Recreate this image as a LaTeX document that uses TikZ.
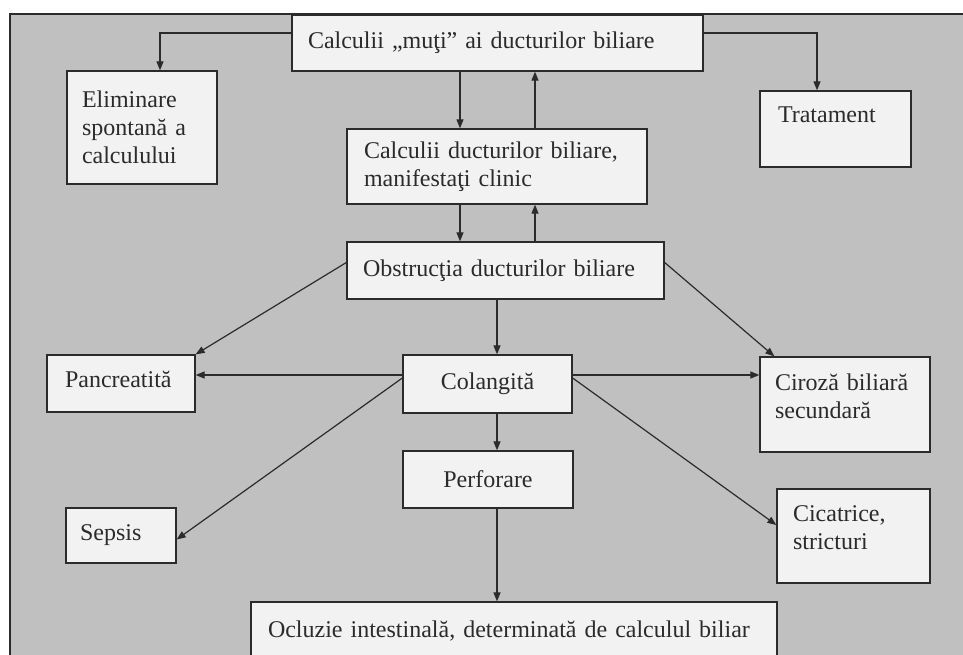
\documentclass[tikz,border=0pt]{standalone}
\usepackage{fontspec}
\setmainfont{Liberation Serif}
\usetikzlibrary{arrows.meta}
\definecolor{bg}{HTML}{C0C0C0}
\definecolor{boxfill}{HTML}{F2F2F2}
\definecolor{ink}{HTML}{2B2B2B}
\begin{document}
\begin{tikzpicture}[x=1pt,y=-1pt,
  box/.style={draw=ink, line width=1.3pt, fill=boxfill, text=ink, align=left, inner ysep=0pt, font=\fontsize{24}{28}\selectfont},
  arr/.style={draw=ink, line width=1.2pt, -{Triangle[length=9pt,width=7pt]}}]
\useasboundingbox (0,0) rectangle (963,655);
\clip (0,0) rectangle (963,655);
\fill[white] (0,0) rectangle (963,655);
\fill[bg] (10,14) rectangle (963,655);
\draw[ink, line width=1.3pt] (10,655) -- (10,14) -- (963,14);

\node[box, text width=379pt, inner xsep=16pt, minimum height=56pt] (top) at (497.5,43) {Calculii „muţi” ai ducturilor biliare};
\node[box, text width=120pt, inner xsep=15pt, minimum height=113pt] (elim) at (142,127.5) {Eliminare\\spontană a\\calculului};
\node[box, text width=115pt, inner xsep=18pt, minimum height=76pt, text depth=29pt] (trat) at (835.5,129) {Tratament};
\node[box, text width=266pt, inner xsep=17pt, minimum height=75pt] (manif) at (497,166.5) {Calculii ducturilor biliare,\\manifestaţi clinic};
\node[box, text width=285pt, inner xsep=16pt, minimum height=57pt] (obstr) at (505.5,270.5) {Obstrucţia ducturilor biliare};
\node[box, text width=112pt, inner xsep=18pt, minimum height=57pt, text depth=9pt] (panc) at (121,383.5) {Pancreatită};
\node[box, text width=149pt, inner xsep=10pt, minimum height=58pt, align=center] (colang) at (487.5,384) {Colangită};
\node[box, text width=140pt, inner xsep=15pt, minimum height=95pt, text depth=44pt] (ciroza) at (845,404.5) {Ciroză biliară\\secundară};
\node[box, text width=150pt, inner xsep=10pt, minimum height=57pt, align=center] (perf) at (488,479.5) {Perforare};
\node[box, text width=82pt, inner xsep=14pt, minimum height=55pt] (sepsis) at (121,535.5) {Sepsis};
\node[box, text width=121pt, inner xsep=16pt, minimum height=94pt, text depth=45pt] (cicat) at (853.5,536) {Cicatrice,\\stricturi};
\node[box, text width=492pt, inner xsep=17pt, minimum height=58pt] (ocl) at (514,631) {Ocluzie intestinală, determinată de calculul biliar};

\coordinate (xL) at (460,0);
\coordinate (xR) at (535,0);
\coordinate (xC) at (497,0);
\coordinate (yH) at (0,375);
\coordinate (xE) at (160,0);
\coordinate (xT) at (817,0);
\coordinate (yE) at (0,33);

\draw[arr] (top.west |- yE) -| (elim.north -| xE);
\draw[arr] (top.east |- yE) -| (trat.north -| xT);
\draw[arr] (top.south -| xL) -- (manif.north -| xL);
\draw[arr] (manif.north -| xR) -- (top.south -| xR);
\draw[arr] (manif.south -| xL) -- (obstr.north -| xL);
\draw[arr] (obstr.north -| xR) -- (manif.south -| xR);
\draw[arr] (obstr.south -| xC) -- (colang.north -| xC);
\draw[arr] (colang.south -| xC) -- (perf.north -| xC);
\draw[arr] (perf.south -| xC) -- (ocl.north -| xC);
\draw[arr] (colang.west |- yH) -- (panc.east |- yH);
\draw[arr] (colang.east |- yH) -- (ciroza.west |- yH);
\draw[arr] ([yshift=8pt]obstr.west) -- (panc.north east);
\draw[arr] ([yshift=8pt]obstr.east) -- ([xshift=15pt]ciroza.north west);
\draw[arr] ([yshift=6pt]colang.west) -- ([yshift=-4pt]sepsis.east);
\draw[arr] ([yshift=6pt]colang.east) -- ([yshift=11pt]cicat.west);
\end{tikzpicture}
\end{document}
